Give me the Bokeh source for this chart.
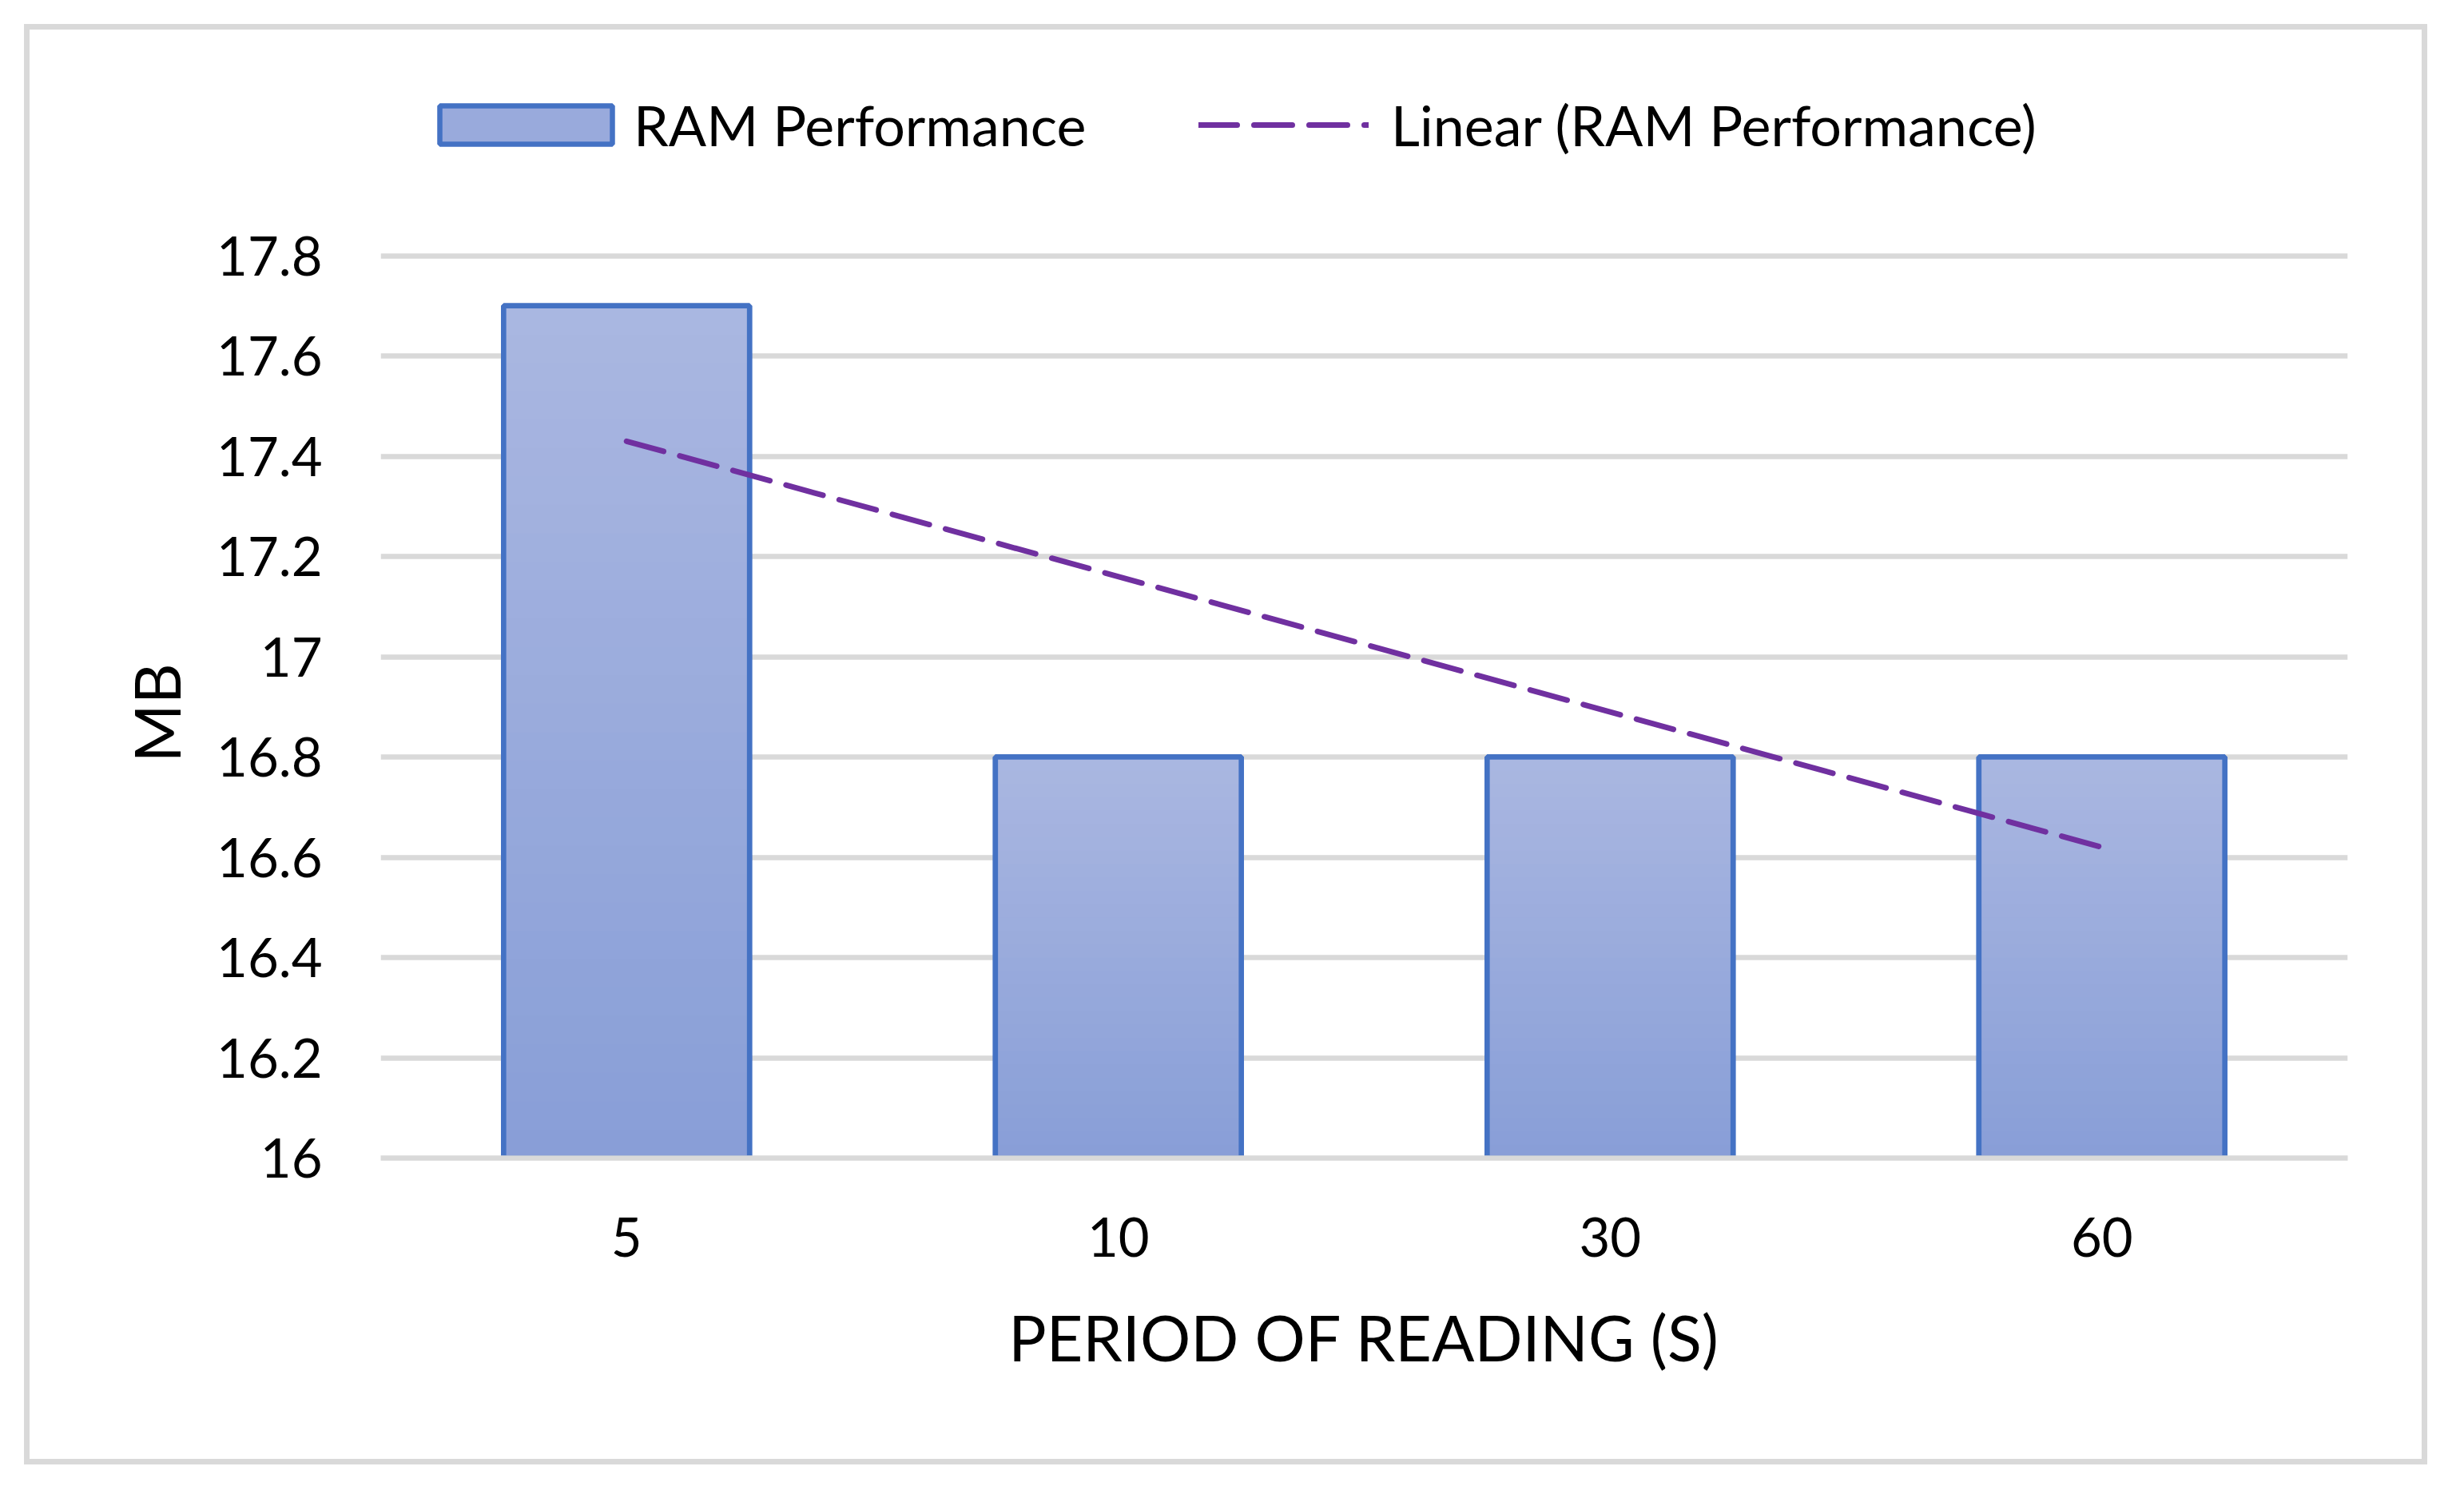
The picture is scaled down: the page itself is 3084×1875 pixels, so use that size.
from bokeh.plotting import figure
from bokeh.models import FactorRange, Range1d, FixedTicker, Legend, LegendItem, Title
from bokeh.embed import file_html
from bokeh.resources import INLINE

# ---- data ----
periods = ["5", "10", "30", "60"]
ram_mb = [17.7, 16.8, 16.8, 16.8]
trend_periods = ["5", "60"]
trend_mb = [17.43, 16.62]
y_ticks = [16.0, 16.2, 16.4, 16.6, 16.8, 17.0, 17.2, 17.4, 17.6, 17.8]
y_tick_labels = ["16", "16.2", "16.4", "16.6", "16.8", "17", "17.2", "17.4", "17.6", "17.8"]
x_title = "PERIOD OF READING (S)"
y_title = "MB"
bar_label = "RAM Performance"
trend_label = "Linear (RAM Performance)"

# ---- styles ----
FONT = "Lato"
BAR_EDGE = "#4472C4"
TOP_COL = (0xAA, 0xB7, 0xE1)
BOT_COL = (0x88, 0x9E, 0xD7)
GRID = "#D9D9D9"
TREND = "#7030A0"
BASE = 16.0
Y_VIEW_MAX = 18.15   # headroom above the axis that holds the legend

p = figure(
    x_range=FactorRange(*periods, range_padding=0),
    y_range=Range1d(BASE, Y_VIEW_MAX),
    width=2994, height=1789,
    min_border_left=439, min_border_right=107,
    min_border_top=63, min_border_bottom=391,
    output_backend="svg", toolbar_location=None,
)
p.styles = {"border": "7px solid #D9D9D9", "box-sizing": "content-box",
            "margin-left": "30px", "margin-top": "30px"}
p.outline_line_color = None
p.background_fill_color = "white"
p.border_fill_color = "white"

# legend proxy bar (solid, with edge)
mid = tuple((a + b) // 2 for a, b in zip(TOP_COL, BOT_COL))
bar_r = p.vbar(x=periods, top=ram_mb, bottom=BASE, width=0.5,
               fill_color="#%02x%02x%02x" % mid, line_color=BAR_EDGE, line_width=6.5)

# gradient fill made of thin strips per bar
N = 30
xs, bots, tops, cols = [], [], [], []
for cat, v in zip(periods, ram_mb):
    h = v - BASE
    for k in range(N):
        t = (k + 0.5) / N
        c = tuple(int(round(b + (a - b) * t)) for a, b in zip(TOP_COL, BOT_COL))
        xs.append(cat)
        bots.append(BASE + h * k / N)
        tops.append(min(v, BASE + h * (k + 1.6) / N))
        cols.append("#%02x%02x%02x" % c)
p.vbar(x=xs, bottom=bots, top=tops, width=0.5, fill_color=cols, line_color=None)
p.vbar(x=periods, top=ram_mb, bottom=BASE, width=0.5,
       fill_color=None, line_color=BAR_EDGE, line_width=6.5)

trend_r = p.line(x=trend_periods, y=trend_mb, line_color=TREND, line_width=7,
                 line_dash="48 21", line_cap="round")

# grid / axes
p.xgrid.visible = False
p.ygrid.ticker = FixedTicker(ticks=y_ticks)
p.ygrid.grid_line_color = GRID
p.ygrid.grid_line_width = 6.5

p.yaxis.ticker = FixedTicker(ticks=y_ticks)
p.yaxis.major_label_overrides = {t: l for t, l in zip(y_ticks, y_tick_labels)}
p.yaxis.axis_line_color = None
p.yaxis.major_tick_line_color = None
p.yaxis.minor_tick_line_color = None
p.yaxis.major_tick_out = 0
p.yaxis.major_label_standoff = 73

p.xaxis.axis_line_color = GRID
p.xaxis.axis_line_width = 6.5
p.xaxis.major_tick_line_color = None
p.xaxis.major_tick_out = 0
p.xaxis.major_label_standoff = 74
p.xaxis.axis_label = x_title
p.xaxis.axis_label_standoff = 50

for ax in (p.xaxis, p.yaxis):
    ax.major_label_text_font = FONT
    ax.major_label_text_font_size = "67px"
    ax.major_label_text_color = "black"
    ax.axis_label_text_font = FONT
    ax.axis_label_text_font_size = "79px"
    ax.axis_label_text_font_style = "normal"
    ax.axis_label_text_color = "black"

# y-axis title, centred on the 16..17.8 span (not on the legend headroom)
y_title_r = Title(text=y_title, align="left", vertical_align="bottom",
                  offset=495, standoff=52,
                  text_font=FONT, text_font_size="79px",
                  text_font_style="normal", text_color="black")
p.add_layout(y_title_r, "left")

common = dict(orientation="horizontal", padding=0, margin=0,
              border_line_color=None, background_fill_alpha=0,
              label_text_font=FONT, label_text_font_size="70px",
              label_text_color="black", glyph_height=60)
legend_bar = Legend(items=[LegendItem(label=bar_label, renderers=[bar_r])],
                    location=(47, 1251), glyph_width=270, label_standoff=0, **common)
legend_trend = Legend(items=[LegendItem(label=trend_label, renderers=[trend_r])],
                      location=(1024, 1251), glyph_width=213, label_standoff=28, **common)
p.add_layout(legend_bar)
p.add_layout(legend_trend)

open("out.html", "w").write(file_html(p, INLINE))
